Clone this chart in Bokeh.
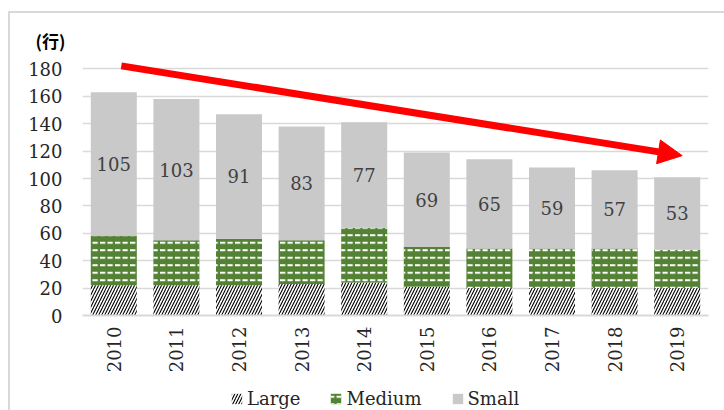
import math
from bokeh.plotting import figure
from bokeh.layouts import column
from bokeh.models import (ColumnDataSource, FixedTicker, Arrow, NormalHead,
                          FactorRange, Range1d)
from bokeh.core.properties import value
from bokeh.embed import file_html
from bokeh.resources import INLINE

years = ["2010", "2011", "2012", "2013", "2014", "2015", "2016", "2017", "2018", "2019"]
large = [22, 22, 22, 23, 24, 21, 20, 20, 20, 20]
medium = [36, 33, 34, 32, 40, 29, 29, 29, 29, 28]
small = [105, 103, 91, 83, 77, 69, 65, 59, 57, 53]
series = ["Large", "Medium", "Small"]
y_ticks = [0, 20, 40, 60, 80, 100, 120, 140, 160, 180]
unit_label = "(行)"
trend_start = (0.62, 182.2)
trend_end = (9.58, 116.7)

label_y = [l + m + s / 2 for l, m, s in zip(large, medium, small)]
source = ColumnDataSource(data=dict(years=years, Large=large, Medium=medium, Small=small,
                                    label_y=label_y, label_txt=[str(s) for s in small]))

SERIF = "DejaVu Serif"
TXT = "#262626"
bar_style = dict(fill_color=["white", "#548235", "#C9C9C9"],
                 line_color=None,
                 hatch_pattern=["/", '"', " "],
                 hatch_color=["black", "white", "white"],
                 hatch_scale=[6, 7.5, 1],
                 hatch_weight=[1.1, 2, 0])

p = figure(x_range=FactorRange(*years), y_range=Range1d(0, 189.8),
           width=714, height=370, output_backend="svg", toolbar_location=None,
           min_border_left=72, min_border_right=16, min_border_top=42, min_border_bottom=68,
           title=unit_label)
p.outline_line_color = None
p.background_fill_color = "white"
p.border_fill_color = "white"

p.title.text_font = "Noto Sans CJK JP"
p.title.text_font_size = "17px"
p.title.text_font_style = "bold"
p.title.text_color = "black"
p.title.align = "left"
p.title.offset = -47
p.title.standoff = 6

p.vbar_stack(series, x="years", width=0.735, source=source, **bar_style)

p.text(x="years", y="label_y", text="label_txt", source=source,
       text_font=value(SERIF), text_font_size="18px", text_color="#404040",
       text_align="center", text_baseline="middle")

p.add_layout(Arrow(end=NormalHead(size=24, fill_color="#FF0000", line_color="#FF0000"),
                   x_start=trend_start[0], y_start=trend_start[1],
                   x_end=trend_end[0], y_end=trend_end[1],
                   line_color="#FF0000", line_width=7))

p.yaxis.ticker = FixedTicker(ticks=y_ticks)
p.ygrid.ticker = FixedTicker(ticks=y_ticks)
p.ygrid.grid_line_color = "#D9D9D9"
p.ygrid.grid_line_width = 1.5
p.xgrid.grid_line_color = None

p.yaxis.axis_line_color = None
p.yaxis.major_tick_line_color = None
p.yaxis.minor_tick_line_color = None
p.yaxis.major_tick_out = 0
p.yaxis.major_label_standoff = 20
p.yaxis.major_label_text_font = SERIF
p.yaxis.major_label_text_font_size = "18px"
p.yaxis.major_label_text_color = TXT

p.xaxis.axis_line_color = "#D9D9D9"
p.xaxis.axis_line_width = 2
p.xaxis.major_tick_line_color = None
p.xaxis.major_tick_out = 0
p.xaxis.major_label_orientation = math.pi / 2
p.xaxis.major_label_standoff = 11
p.xaxis.major_label_text_font = SERIF
p.xaxis.major_label_text_font_size = "18px"
p.xaxis.major_label_text_color = TXT

# legend strip: same data, bars kept outside the visible range so only the legend shows
lf = figure(x_range=FactorRange(*years), y_range=Range1d(1000, 1001),
            width=714, height=27, output_backend="svg", toolbar_location=None,
            min_border_left=0, min_border_right=0, min_border_top=0, min_border_bottom=0)
lf.axis.visible = False
lf.grid.grid_line_color = None
lf.outline_line_color = None
lf.vbar_stack(series, x="years", width=0.735, source=source,
              legend_label=series, **bar_style)
lg = lf.legend[0]
lg.orientation = "horizontal"
lg.location = (148, 1)
lg.padding = 0
lg.margin = 0
lg.spacing = 29
lg.border_line_color = None
lg.background_fill_alpha = 0
lg.glyph_width = 13
lg.glyph_height = 13
lg.label_standoff = 4
lg.label_text_font = SERIF
lg.label_text_font_size = "18px"
lg.label_text_color = TXT

layout = column(p, lf, spacing=0)
layout.margin = (11, 0, 0, 8)
layout.styles = {"border-top": "2px solid #D9D9D9", "border-left": "2px solid #D9D9D9"}

open("out.html", "w").write(file_html(layout, INLINE))
